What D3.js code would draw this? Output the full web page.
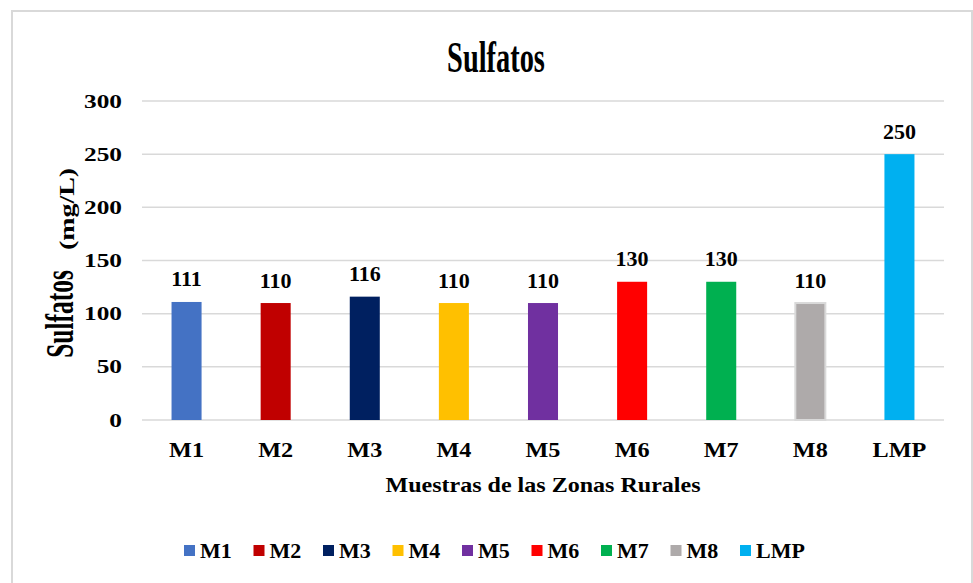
<!DOCTYPE html>
<html>
<head>
<meta charset="utf-8">
<script src="https://cdn.jsdelivr.net/npm/d3@7"></script>
<style>
  body { margin: 0; background: #fff; }
  text { font-family: "Liberation Serif", "Times New Roman", serif; font-weight: bold; fill: #000; }
</style>
</head>
<body>
<svg id="chart" width="973" height="583"></svg>
<script>
// data
let categories = ['M1', 'M2', 'M3', 'M4', 'M5', 'M6', 'M7', 'M8', 'LMP']
let values = [111, 110, 116, 110, 110, 130, 130, 110, 250]
let barColors = ['#4472c4', '#c00000', '#002060', '#ffc000', '#7030a0', '#ff0000', '#00b050', '#aeaaaa', '#00b0f0']
let yTicks = [0, 50, 100, 150, 200, 250, 300]

let svg = d3.select('#chart')

// outer frame of the chart
svg.append('rect')
   .attr('x', 12).attr('y', 11)
   .attr('width', 960).attr('height', 600)
   .attr('fill', 'none')
   .attr('stroke', '#d9d9d9')
   .attr('stroke-width', 2)

let x = d3.scaleBand()
          .domain(categories)
          .range([142, 944])
          .paddingInner(0.663)
          .paddingOuter(0.3315)

let y = d3.scaleLinear()
          .domain([0, 300])
          .range([420, 101])

// text is a bit wider than the font, so each label gets its own x-scale
let label = (str, tx, ty, size, sx, anchor, rot) => {
    let g = svg.append('g')
               .attr('transform', 'translate(' + tx + ',' + ty + ')' + (rot ? ' rotate(' + rot + ')' : '') + ' scale(' + sx + ',1)')
    return g.append('text')
            .attr('text-anchor', anchor)
            .style('font-size', size + 'px')
            .text(str)
}

// gridlines
svg.append('g')
   .selectAll('line')
   .data(yTicks)
   .enter()
   .append('line')
   .attr('x1', 142).attr('x2', 944)
   .attr('y1', (d) => y(d)).attr('y2', (d) => y(d))
   .attr('stroke', '#d9d9d9')
   .attr('stroke-width', 1.5)

// y tick labels
yTicks.forEach((t) => {
    label(t, 122, y(t) + 6.5, 19.5, 1.3, 'end')
})

// bars
svg.append('g')
   .selectAll('rect')
   .data(values)
   .enter()
   .append('rect')
   .attr('x', (d, i) => x(categories[i]))
   .attr('y', (d) => y(d))
   .attr('width', x.bandwidth())
   .attr('height', (d) => y(0) - y(d))
   .attr('fill', (d, i) => barColors[i])
   .attr('stroke', (d, i) => categories[i] == 'M8' ? '#d9d9d9' : 'none')
   .attr('stroke-width', 2)

// value labels above bars
values.forEach((v, i) => {
    label(v, x(categories[i]) + x.bandwidth() / 2, y(v) - 15.5, 20, 1.1, 'middle')
})

// category labels
categories.forEach((c) => {
    label(c, x(c) + x.bandwidth() / 2, 457, 22, 1.1, 'middle')
})

// titles
label('Sulfatos', 496, 72, 44, 0.645, 'middle')
label('Muestras de las Zonas Rurales', 543, 492, 21, 1.145, 'middle')
label('Sulfatos', 73, 314, 41, 0.62, 'middle', -90)
label('(mg/L)', 73.5, 209, 22, 1.27, 'middle', -90)

// legend
let legendX = 184
let legendStep = 69.5
categories.forEach((c, i) => {
    let lx = legendX + i * legendStep
    svg.append('rect')
       .attr('x', lx).attr('y', 545)
       .attr('width', 11).attr('height', 11)
       .attr('fill', barColors[i])
    label(c, lx + 16, 558, 20, 1.1, 'start')
})
</script>
</body>
</html>
